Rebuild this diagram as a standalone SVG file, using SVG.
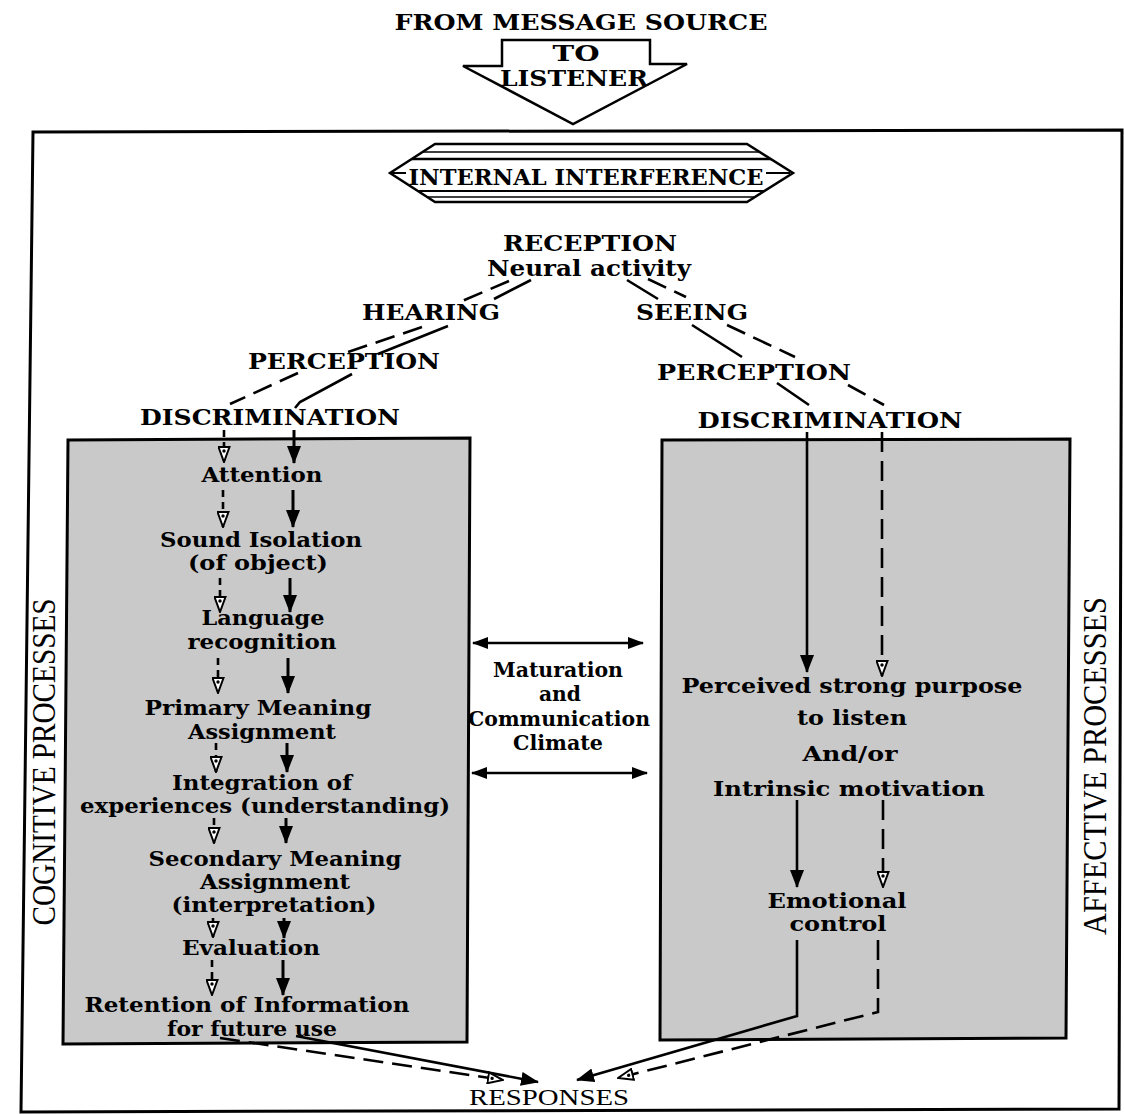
<svg xmlns="http://www.w3.org/2000/svg" width="1124" height="1114" viewBox="0 0 1124 1114">
  <defs>
    <marker id="solidHead" viewBox="0 0 18 14" refX="17" refY="7" markerWidth="18" markerHeight="14" markerUnits="userSpaceOnUse" orient="auto-start-reverse">
      <path d="M0,0 L18,7 L0,14 Z" fill="#000"/>
    </marker>
    <marker id="hollowHead" viewBox="0 0 17 13" refX="16" refY="6.5" markerWidth="17" markerHeight="13" markerUnits="userSpaceOnUse" orient="auto">
      <path d="M1,1 L16,6.5 L1,12 Z" fill="#fff" stroke="#000" stroke-width="2"/>
      <circle cx="5" cy="6.5" r="1.7" fill="#000"/>
    </marker>
    <marker id="thinHead" viewBox="0 0 16 12" refX="15" refY="6" markerWidth="16" markerHeight="12" markerUnits="userSpaceOnUse" orient="auto-start-reverse">
      <path d="M0,0 L16,6 L0,12 Z" fill="#000"/>
    </marker>
    <clipPath id="bannerClip">
      <polygon points="390,173 435,144 747,144 793,173 747,202 435,202"/>
    </clipPath>
  </defs>
  <style>
    text { font-family: "DejaVu Serif", "Liberation Serif", serif; font-weight: bold; fill: #000; text-anchor: middle; }
    .big { font-size: 23px; }
    .lbl { font-size: 22px; }
    .bt { font-size: 21px; }
    .side { font-family: "Liberation Serif", "Times New Roman", serif; font-size: 34px; font-weight: normal; }
    .resp { font-family: "Liberation Serif", "Times New Roman", serif; font-size: 23px; font-weight: normal; }
    .frame { fill: none; stroke: #000; stroke-width: 3; }
    .panel { fill: #c9c9c9; stroke: #000; stroke-width: 3; }
    .ln { fill: none; stroke: #000; stroke-width: 2.6; }
    .heavy { fill: none; stroke: #000; stroke-width: 3; }
    .dash { stroke-dasharray: 20 9; }
    .sdash { stroke-dasharray: 7 5; }
  </style>

  <!-- outer frame -->
  <path class="frame" d="M33,132 L1122,130 L1119,1109 L21,1112 Z"/>

  <!-- source arrow -->
  <g id="source">
    <text class="big" x="581" y="30" textLength="373" lengthAdjust="spacingAndGlyphs">FROM MESSAGE SOURCE</text>
    <path d="M502,40 H650 V64 H687 L573,124 L463,66 H502 Z" fill="#fff" stroke="#000" stroke-width="2.5" stroke-linejoin="miter"/>
    <text class="lbl" x="576" y="61" textLength="47" lengthAdjust="spacingAndGlyphs">TO</text>
    <text class="lbl" x="574" y="86" textLength="148" lengthAdjust="spacingAndGlyphs">LISTENER</text>
  </g>

  <!-- interference banner -->
  <g id="interference">
    <polygon points="390,173 435,144 747,144 793,173 747,202 435,202" fill="#fff" stroke="#000" stroke-width="2.5"/>
    <g clip-path="url(#bannerClip)" stroke="#000">
      <line x1="380" y1="152" x2="800" y2="152" stroke-width="1.3"/>
      <line x1="380" y1="159" x2="800" y2="159" stroke-width="2.6"/>
      <line x1="380" y1="191" x2="800" y2="191" stroke-width="2.2"/>
      <line x1="380" y1="197" x2="800" y2="197" stroke-width="1.3"/>
    </g>
    <line x1="392" y1="173" x2="406" y2="173" stroke="#000" stroke-width="2"/>
    <line x1="766" y1="173" x2="790" y2="173" stroke="#000" stroke-width="2"/>
    <text x="586" y="185" font-size="23" textLength="355" lengthAdjust="spacingAndGlyphs">INTERNAL INTERFERENCE</text>
  </g>

  <!-- reception and branch labels -->
  <g id="reception">
    <text class="lbl" x="590" y="251" textLength="174" lengthAdjust="spacingAndGlyphs">RECEPTION</text>
    <text class="lbl" x="589" y="276" textLength="204" lengthAdjust="spacingAndGlyphs">Neural activity</text>
  </g>
  <g id="hearing"><text class="lbl" x="431" y="320" textLength="138" lengthAdjust="spacingAndGlyphs">HEARING</text></g>
  <g id="seeing"><text class="lbl" x="692" y="320" textLength="112" lengthAdjust="spacingAndGlyphs">SEEING</text></g>
  <g id="perception-left"><text class="lbl" x="344" y="369" textLength="192" lengthAdjust="spacingAndGlyphs">PERCEPTION</text></g>
  <g id="perception-right"><text class="lbl" x="754" y="380" textLength="194" lengthAdjust="spacingAndGlyphs">PERCEPTION</text></g>
  <g id="discrimination-left"><text class="lbl" x="270" y="425" textLength="260" lengthAdjust="spacingAndGlyphs">DISCRIMINATION</text></g>
  <g id="discrimination-right"><text class="lbl" x="830" y="428" textLength="265" lengthAdjust="spacingAndGlyphs">DISCRIMINATION</text></g>

  <!-- cognitive panel -->
  <g id="cognitive">
    <path class="panel" d="M68,440 L470,438 L467,1042 L63,1044 Z"/>
    <text class="bt" x="262" y="482" textLength="121" lengthAdjust="spacingAndGlyphs">Attention</text>
    <text class="bt" x="261" y="547" textLength="202" lengthAdjust="spacingAndGlyphs">Sound Isolation</text>
    <text class="bt" x="258" y="570" textLength="140" lengthAdjust="spacingAndGlyphs">(of object)</text>
    <text class="bt" x="263" y="625" textLength="123" lengthAdjust="spacingAndGlyphs">Language</text>
    <text class="bt" x="262" y="649" textLength="149" lengthAdjust="spacingAndGlyphs">recognition</text>
    <text class="bt" x="258" y="715" textLength="227" lengthAdjust="spacingAndGlyphs">Primary Meaning</text>
    <text class="bt" x="262" y="739" textLength="148" lengthAdjust="spacingAndGlyphs">Assignment</text>
    <text class="bt" x="262" y="790" textLength="180" lengthAdjust="spacingAndGlyphs">Integration of</text>
    <text class="bt" x="265" y="813" textLength="370" lengthAdjust="spacingAndGlyphs">experiences (understanding)</text>
    <text class="bt" x="275" y="866" textLength="253" lengthAdjust="spacingAndGlyphs">Secondary Meaning</text>
    <text class="bt" x="275" y="889" textLength="150" lengthAdjust="spacingAndGlyphs">Assignment</text>
    <text class="bt" x="274" y="912" textLength="205" lengthAdjust="spacingAndGlyphs">(interpretation)</text>
    <text class="bt" x="251" y="955" textLength="138" lengthAdjust="spacingAndGlyphs">Evaluation</text>
    <text class="bt" x="247" y="1012" textLength="325" lengthAdjust="spacingAndGlyphs">Retention of Information</text>
    <text class="bt" x="252" y="1036" textLength="170" lengthAdjust="spacingAndGlyphs">for future use</text>
  </g>
  <g id="cognitive-label">
    <text class="side" transform="translate(55,762) rotate(-90)" textLength="327" lengthAdjust="spacingAndGlyphs">COGNITIVE PROCESSES</text>
  </g>

  <!-- affective panel -->
  <g id="affective">
    <path class="panel" d="M662,440 L1070,439 L1066,1038 L660,1040 Z"/>
    <text class="bt" x="852" y="693" textLength="341" lengthAdjust="spacingAndGlyphs">Perceived strong purpose</text>
    <text class="bt" x="852" y="725" textLength="110" lengthAdjust="spacingAndGlyphs">to listen</text>
    <text class="bt" x="850" y="761" textLength="95" lengthAdjust="spacingAndGlyphs">And/or</text>
    <text class="bt" x="849" y="796" textLength="272" lengthAdjust="spacingAndGlyphs">Intrinsic motivation</text>
    <text class="bt" x="837" y="908" textLength="139" lengthAdjust="spacingAndGlyphs">Emotional</text>
    <text class="bt" x="838" y="931" textLength="97" lengthAdjust="spacingAndGlyphs">control</text>
  </g>
  <g id="affective-label">
    <text class="side" transform="translate(1106,766) rotate(-90)" textLength="338" lengthAdjust="spacingAndGlyphs">AFFECTIVE PROCESSES</text>
  </g>

  <!-- climate -->
  <g id="climate">
    <text class="bt" x="558" y="677" textLength="130" lengthAdjust="spacingAndGlyphs">Maturation</text>
    <text class="bt" x="560" y="701" textLength="42" lengthAdjust="spacingAndGlyphs">and</text>
    <text class="bt" x="559" y="726" textLength="182" lengthAdjust="spacingAndGlyphs">Communication</text>
    <text class="bt" x="558" y="750" textLength="90" lengthAdjust="spacingAndGlyphs">Climate</text>
  </g>

  <g id="responses">
    <text class="resp" x="549" y="1105" textLength="160" lengthAdjust="spacingAndGlyphs">RESPONSES</text>
  </g>

  <!-- connectors -->
  <g id="connectors">
    <!-- hearing branch -->
    <path class="ln" d="M531,280 L494,299 M448,326 L378,354 M352,374 L300,402 L295,408"/>
    <path class="ln dash" d="M509,281 L462,301 M422,327 L348,352 M298,373 L230,404"/>
    <path class="heavy" d="M294,430 V463" marker-end="url(#solidHead)"/>
    <path class="ln sdash" d="M224,430 V462" marker-end="url(#hollowHead)"/>
    <!-- seeing branch -->
    <path class="ln" d="M627,280 L658,299 M692,325 L742,357 M777,383 L809,405"/>
    <path class="ln dash" d="M648,279 L686,297 M727,325 L795,357 M848,385 L884,405"/>

    <!-- cognitive chain -->
    <path class="heavy" d="M293,490 V527" marker-end="url(#solidHead)"/>
    <path class="ln sdash" d="M223,490 V527" marker-end="url(#hollowHead)"/>
    <path class="heavy" d="M290,578 V612" marker-end="url(#solidHead)"/>
    <path class="ln sdash" d="M220,578 V612" marker-end="url(#hollowHead)"/>
    <path class="heavy" d="M288,658 V693" marker-end="url(#solidHead)"/>
    <path class="ln sdash" d="M218,658 V693" marker-end="url(#hollowHead)"/>
    <path class="heavy" d="M287,743 V772" marker-end="url(#solidHead)"/>
    <path class="ln sdash" d="M216,743 V772" marker-end="url(#hollowHead)"/>
    <path class="heavy" d="M286,818 V843" marker-end="url(#solidHead)"/>
    <path class="ln sdash" d="M214,818 V843" marker-end="url(#hollowHead)"/>
    <path class="heavy" d="M284,918 V938" marker-end="url(#solidHead)"/>
    <path class="ln sdash" d="M213,918 V937" marker-end="url(#hollowHead)"/>
    <path class="heavy" d="M283,960 V995" marker-end="url(#solidHead)"/>
    <path class="ln sdash" d="M212,960 V995" marker-end="url(#hollowHead)"/>

    <!-- affective chain -->
    <path class="ln" d="M807,432 V672" marker-end="url(#solidHead)"/>
    <path class="ln dash" d="M882,432 V676" marker-end="url(#hollowHead)"/>
    <path class="ln" d="M797,800 V887" marker-end="url(#solidHead)"/>
    <path class="ln dash" d="M883,800 V887" marker-end="url(#hollowHead)"/>

    <!-- to responses -->
    <path class="ln" d="M797,940 V1016 L577,1080" marker-end="url(#solidHead)"/>
    <path class="ln dash" d="M878,940 V1012 L618,1078" marker-end="url(#hollowHead)"/>
    <path class="ln" d="M296,1036 L538,1082" marker-end="url(#solidHead)"/>
    <path class="ln dash" d="M220,1038 L503,1080" marker-end="url(#hollowHead)"/>

    <!-- climate double arrows -->
    <path class="ln" d="M473,643 H643" marker-start="url(#thinHead)" marker-end="url(#thinHead)"/>
    <path class="ln" d="M472,773 H647" marker-start="url(#thinHead)" marker-end="url(#thinHead)"/>
  </g>
</svg>
